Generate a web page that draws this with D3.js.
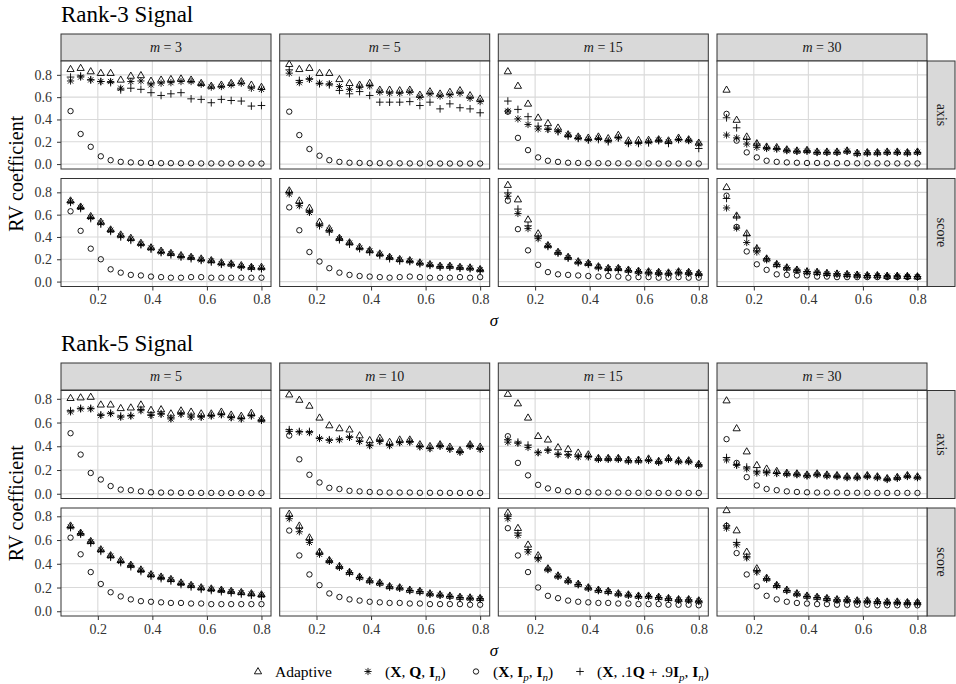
<!DOCTYPE html>
<html>
<head>
<meta charset="utf-8">
<script src="https://cdn.jsdelivr.net/npm/d3@7"></script>
<style>
body { margin: 0; background: #fff; }
</style>
</head>
<body>
<svg id="chart"></svg>
<script>
var width = 956,
    height = 684,
    serif = "'Liberation Serif', 'DejaVu Serif', serif";

// noise levels on the x axis
var sigma = [0.1, 0.137, 0.174, 0.211, 0.247, 0.284, 0.321, 0.358, 0.395, 0.432,
             0.468, 0.505, 0.542, 0.579, 0.616, 0.653, 0.689, 0.726, 0.763, 0.8];

var rank3_m = [3, 5, 15, 30],
    rank5_m = [5, 10, 15, 30],
    row_labels = ["axis", "score"];

// each panel: [Adaptive, (X,Q,In), (X,Ip,In), (X,.1Q+.9Ip,In)]
var r3_m3_axis = [
  [0.85,0.86,0.83,0.815,0.815,0.755,0.79,0.795,0.745,0.755,0.76,0.765,0.755,0.725,0.70,0.71,0.725,0.74,0.71,0.69],
  [0.745,0.78,0.755,0.74,0.74,0.68,0.74,0.745,0.71,0.725,0.73,0.74,0.74,0.715,0.69,0.695,0.71,0.725,0.68,0.67],
  [0.475,0.27,0.155,0.07,0.035,0.02,0.015,0.012,0.01,0.008,0.008,0.007,0.007,0.006,0.006,0.006,0.005,0.005,0.005,0.005],
  [0.78,0.79,0.755,0.74,0.73,0.665,0.68,0.67,0.64,0.615,0.63,0.64,0.585,0.58,0.55,0.58,0.57,0.565,0.52,0.525]
];
var r3_m5_axis = [
  [0.895,0.85,0.86,0.815,0.815,0.76,0.725,0.71,0.725,0.665,0.665,0.66,0.665,0.62,0.65,0.63,0.645,0.66,0.615,0.585],
  [0.815,0.73,0.76,0.725,0.72,0.695,0.67,0.69,0.70,0.645,0.635,0.635,0.645,0.60,0.63,0.61,0.62,0.635,0.59,0.56],
  [0.47,0.26,0.135,0.075,0.035,0.02,0.012,0.01,0.008,0.008,0.007,0.007,0.006,0.006,0.006,0.005,0.005,0.005,0.005,0.005],
  [0.845,0.75,0.765,0.72,0.71,0.66,0.63,0.65,0.615,0.555,0.555,0.555,0.56,0.525,0.555,0.495,0.54,0.505,0.495,0.46]
];
var r3_m15_axis = [
  [0.83,0.70,0.54,0.415,0.365,0.325,0.265,0.245,0.235,0.245,0.23,0.26,0.21,0.215,0.215,0.22,0.21,0.235,0.22,0.19],
  [0.475,0.405,0.355,0.315,0.31,0.295,0.26,0.235,0.22,0.23,0.21,0.235,0.19,0.19,0.20,0.215,0.20,0.22,0.21,0.18],
  [0.47,0.235,0.125,0.06,0.03,0.02,0.012,0.01,0.008,0.008,0.007,0.007,0.006,0.006,0.006,0.005,0.005,0.005,0.005,0.005],
  [0.565,0.49,0.425,0.34,0.315,0.29,0.25,0.23,0.215,0.22,0.20,0.235,0.185,0.185,0.19,0.21,0.185,0.22,0.215,0.14]
];
var r3_m30_axis = [
  [0.665,0.395,0.245,0.185,0.155,0.15,0.13,0.12,0.125,0.11,0.11,0.11,0.12,0.10,0.105,0.105,0.11,0.11,0.105,0.11],
  [0.26,0.235,0.18,0.15,0.14,0.135,0.12,0.115,0.115,0.105,0.105,0.105,0.115,0.095,0.10,0.10,0.105,0.105,0.10,0.105],
  [0.45,0.21,0.105,0.06,0.03,0.02,0.015,0.012,0.01,0.01,0.008,0.008,0.008,0.007,0.007,0.007,0.006,0.006,0.006,0.006],
  [0.415,0.325,0.22,0.18,0.15,0.14,0.125,0.115,0.12,0.105,0.105,0.105,0.115,0.095,0.10,0.10,0.105,0.105,0.10,0.105]
];
var r3_m3_score = [
  [0.725,0.67,0.585,0.535,0.465,0.42,0.39,0.345,0.305,0.275,0.255,0.235,0.22,0.205,0.19,0.17,0.16,0.145,0.13,0.13],
  [0.715,0.665,0.575,0.525,0.46,0.41,0.38,0.335,0.30,0.265,0.25,0.225,0.215,0.195,0.185,0.16,0.155,0.135,0.125,0.12],
  [0.63,0.455,0.295,0.20,0.11,0.08,0.06,0.055,0.045,0.04,0.035,0.035,0.04,0.04,0.035,0.035,0.035,0.035,0.035,0.035],
  [0.71,0.655,0.565,0.515,0.45,0.40,0.37,0.33,0.29,0.26,0.24,0.22,0.205,0.19,0.175,0.155,0.15,0.13,0.12,0.115]
];
var r3_m5_score = [
  [0.815,0.725,0.66,0.535,0.475,0.39,0.35,0.31,0.28,0.25,0.22,0.20,0.19,0.17,0.155,0.14,0.14,0.13,0.125,0.11],
  [0.785,0.68,0.62,0.505,0.46,0.385,0.345,0.30,0.275,0.245,0.215,0.195,0.185,0.165,0.15,0.135,0.135,0.125,0.12,0.105],
  [0.665,0.46,0.265,0.18,0.12,0.08,0.06,0.05,0.045,0.04,0.035,0.04,0.045,0.04,0.035,0.035,0.035,0.04,0.035,0.04],
  [0.80,0.70,0.63,0.50,0.445,0.375,0.335,0.295,0.265,0.235,0.205,0.185,0.18,0.16,0.145,0.13,0.13,0.12,0.115,0.10]
];
var r3_m15_score = [
  [0.865,0.735,0.555,0.43,0.325,0.265,0.22,0.18,0.165,0.135,0.12,0.12,0.105,0.095,0.09,0.085,0.08,0.09,0.085,0.075],
  [0.765,0.61,0.475,0.385,0.32,0.26,0.215,0.175,0.16,0.13,0.115,0.115,0.10,0.09,0.085,0.08,0.075,0.085,0.08,0.07],
  [0.725,0.47,0.28,0.15,0.085,0.065,0.06,0.055,0.05,0.045,0.05,0.045,0.035,0.04,0.04,0.035,0.035,0.04,0.035,0.035],
  [0.795,0.65,0.50,0.40,0.315,0.255,0.21,0.17,0.155,0.125,0.11,0.11,0.095,0.085,0.08,0.075,0.07,0.08,0.075,0.065]
];
var r3_m30_score = [
  [0.845,0.59,0.43,0.295,0.205,0.155,0.125,0.105,0.09,0.085,0.075,0.07,0.065,0.06,0.055,0.055,0.05,0.05,0.048,0.045],
  [0.66,0.48,0.35,0.265,0.195,0.15,0.12,0.10,0.088,0.08,0.072,0.068,0.062,0.058,0.053,0.052,0.048,0.048,0.046,0.043],
  [0.77,0.49,0.27,0.155,0.105,0.065,0.06,0.055,0.055,0.045,0.045,0.04,0.04,0.04,0.04,0.04,0.04,0.04,0.04,0.04],
  [0.745,0.58,0.415,0.30,0.205,0.155,0.125,0.105,0.09,0.085,0.075,0.07,0.065,0.06,0.055,0.055,0.05,0.05,0.048,0.045]
];

var r5_m5_axis = [
  [0.805,0.81,0.815,0.75,0.75,0.72,0.725,0.75,0.705,0.71,0.675,0.70,0.69,0.675,0.675,0.69,0.665,0.655,0.68,0.63],
  [0.69,0.715,0.715,0.66,0.675,0.645,0.655,0.70,0.66,0.67,0.63,0.67,0.645,0.645,0.655,0.665,0.64,0.63,0.655,0.62],
  [0.51,0.33,0.175,0.12,0.065,0.035,0.03,0.02,0.012,0.01,0.01,0.008,0.008,0.007,0.007,0.006,0.006,0.006,0.006,0.006],
  [0.70,0.72,0.72,0.665,0.68,0.655,0.66,0.71,0.665,0.675,0.64,0.675,0.655,0.65,0.66,0.67,0.645,0.635,0.66,0.62]
];
var r5_m10_axis = [
  [0.835,0.79,0.74,0.64,0.575,0.55,0.54,0.49,0.45,0.47,0.435,0.455,0.455,0.415,0.40,0.415,0.395,0.365,0.415,0.395],
  [0.525,0.52,0.515,0.465,0.45,0.455,0.475,0.44,0.405,0.44,0.405,0.43,0.435,0.395,0.38,0.40,0.375,0.35,0.40,0.375],
  [0.49,0.29,0.16,0.095,0.05,0.04,0.025,0.02,0.015,0.012,0.01,0.01,0.01,0.008,0.008,0.008,0.007,0.007,0.007,0.007],
  [0.54,0.525,0.525,0.47,0.455,0.46,0.48,0.445,0.41,0.445,0.41,0.435,0.44,0.40,0.385,0.405,0.38,0.355,0.405,0.38]
];
var r5_m15_axis = [
  [0.84,0.76,0.64,0.485,0.455,0.39,0.375,0.345,0.33,0.30,0.30,0.30,0.285,0.285,0.295,0.275,0.30,0.28,0.28,0.25],
  [0.435,0.425,0.39,0.345,0.365,0.33,0.325,0.31,0.31,0.29,0.29,0.29,0.275,0.275,0.28,0.265,0.29,0.27,0.27,0.24],
  [0.485,0.26,0.155,0.075,0.045,0.03,0.02,0.015,0.012,0.01,0.01,0.01,0.008,0.008,0.008,0.007,0.007,0.007,0.007,0.007],
  [0.455,0.435,0.41,0.35,0.37,0.335,0.33,0.315,0.315,0.295,0.295,0.295,0.28,0.28,0.285,0.27,0.295,0.275,0.275,0.245]
];
var r5_m30_axis = [
  [0.785,0.55,0.355,0.24,0.21,0.19,0.175,0.17,0.16,0.17,0.16,0.155,0.145,0.145,0.155,0.145,0.13,0.14,0.155,0.145],
  [0.285,0.24,0.21,0.175,0.175,0.17,0.165,0.16,0.15,0.16,0.15,0.145,0.135,0.135,0.145,0.135,0.12,0.13,0.145,0.135],
  [0.46,0.26,0.14,0.07,0.04,0.03,0.02,0.015,0.012,0.01,0.01,0.01,0.008,0.008,0.008,0.007,0.007,0.007,0.007,0.007],
  [0.305,0.245,0.225,0.19,0.18,0.175,0.17,0.165,0.155,0.165,0.155,0.15,0.14,0.14,0.15,0.14,0.125,0.135,0.15,0.14]
];
var r5_m5_score = [
  [0.72,0.66,0.59,0.52,0.47,0.43,0.39,0.35,0.31,0.29,0.27,0.24,0.22,0.20,0.19,0.18,0.17,0.16,0.15,0.14],
  [0.71,0.655,0.585,0.515,0.465,0.42,0.385,0.345,0.305,0.285,0.265,0.235,0.215,0.195,0.185,0.175,0.165,0.155,0.145,0.135],
  [0.62,0.48,0.33,0.23,0.16,0.125,0.10,0.085,0.08,0.075,0.07,0.07,0.065,0.065,0.06,0.06,0.06,0.06,0.06,0.06],
  [0.705,0.65,0.575,0.505,0.455,0.41,0.375,0.335,0.295,0.275,0.255,0.225,0.205,0.185,0.175,0.165,0.155,0.145,0.135,0.125]
];
var r5_m10_score = [
  [0.82,0.72,0.62,0.50,0.43,0.38,0.33,0.29,0.26,0.24,0.21,0.20,0.18,0.17,0.15,0.14,0.13,0.12,0.115,0.11],
  [0.78,0.67,0.58,0.48,0.42,0.37,0.325,0.285,0.255,0.235,0.205,0.195,0.175,0.165,0.145,0.135,0.125,0.115,0.11,0.105],
  [0.68,0.47,0.31,0.22,0.15,0.12,0.10,0.09,0.08,0.075,0.07,0.07,0.065,0.065,0.06,0.06,0.06,0.06,0.055,0.055],
  [0.80,0.70,0.60,0.49,0.425,0.375,0.325,0.285,0.255,0.235,0.205,0.195,0.175,0.165,0.145,0.135,0.125,0.115,0.11,0.105]
];
var r5_m15_score = [
  [0.83,0.70,0.56,0.47,0.36,0.30,0.26,0.23,0.20,0.18,0.17,0.15,0.14,0.13,0.13,0.12,0.11,0.10,0.10,0.09],
  [0.78,0.64,0.50,0.44,0.35,0.295,0.255,0.225,0.195,0.175,0.165,0.145,0.135,0.125,0.125,0.115,0.105,0.095,0.095,0.085],
  [0.70,0.47,0.33,0.20,0.13,0.11,0.09,0.08,0.075,0.07,0.07,0.065,0.065,0.06,0.06,0.06,0.055,0.055,0.055,0.05],
  [0.80,0.66,0.52,0.45,0.355,0.295,0.255,0.225,0.195,0.175,0.165,0.145,0.135,0.125,0.125,0.115,0.105,0.095,0.095,0.085]
];
var r5_m30_score = [
  [0.85,0.68,0.50,0.36,0.28,0.22,0.18,0.15,0.13,0.12,0.11,0.10,0.10,0.09,0.09,0.085,0.08,0.08,0.075,0.075],
  [0.70,0.56,0.45,0.33,0.27,0.215,0.175,0.145,0.125,0.115,0.105,0.095,0.095,0.085,0.085,0.08,0.075,0.075,0.07,0.07],
  [0.72,0.49,0.31,0.21,0.13,0.10,0.08,0.07,0.065,0.06,0.06,0.055,0.055,0.055,0.055,0.05,0.05,0.05,0.05,0.05],
  [0.72,0.58,0.46,0.34,0.275,0.215,0.175,0.145,0.125,0.115,0.105,0.095,0.095,0.085,0.085,0.08,0.075,0.075,0.07,0.07]
];

var shapes = ["triangle", "asterisk", "circle", "plus"];

// layout
var col_left = [61, 279.7, 498.3, 717],
    pw = 210,
    ph = 108,
    strip_h = 27,
    rstrip_w = 28,
    x_ticks = [0.2, 0.4, 0.6, 0.8],
    y_ticks = [0, 0.2, 0.4, 0.6, 0.8];

var svg = d3.select("#chart")
  .attr("width", width).attr("height", height)
  .style("font-family", serif);

function symbolPath(type) {
  if (type == "triangle") return "M0,-3.9L3.6,2.3L-3.6,2.3Z";
  if (type == "circle") return "M2.7,0A2.7,2.7 0 1 1 -2.7,0A2.7,2.7 0 1 1 2.7,0Z";
  if (type == "plus") return "M-3.8,0H3.8M0,-3.8V3.8";
  return "M-3.6,0H3.6M0,-3.6V3.6M-2.6,-2.6L2.6,2.6M-2.6,2.6L2.6,-2.6";
}

function styleAxis(a) {
  a.select(".domain").remove();
  a.selectAll("line").attr("stroke", "#333");
  a.selectAll("text")
    .style("font-family", serif).style("font-size", "14px")
    .attr("fill", "#333");
}

function drawSection(title, ms, panels, strip_top, row_tops, y_dom, label_y) {
  var x = d3.scaleLinear().domain([0.065, 0.835]).range([0, pw]);
  var y = d3.scaleLinear().domain(y_dom).range([ph, 0]);

  svg.append("text")
    .attr("x", 61).attr("y", strip_top - 12.5)
    .style("font-size", "23px").attr("fill", "#000")
    .text(title);

  // top strips
  ms.forEach(function(m, ci) {
    svg.append("rect")
      .attr("x", col_left[ci]).attr("y", strip_top)
      .attr("width", pw).attr("height", strip_h)
      .attr("fill", "#d9d9d9").attr("stroke", "#333").attr("stroke-width", 1);
    var t = svg.append("text")
      .attr("x", col_left[ci] + pw / 2).attr("y", strip_top + 18)
      .attr("text-anchor", "middle").style("font-size", "14px").attr("fill", "#1a1a1a");
    t.append("tspan").style("font-style", "italic").text("m");
    t.append("tspan").text(" = " + m);
  });

  row_tops.forEach(function(rt, ri) {
    // right strip
    svg.append("rect")
      .attr("x", col_left[3] + pw).attr("y", rt)
      .attr("width", rstrip_w).attr("height", ph)
      .attr("fill", "#d9d9d9").attr("stroke", "#333").attr("stroke-width", 1);
    svg.append("text")
      .attr("transform", "translate(" + (col_left[3] + pw + rstrip_w / 2 - 4) + "," + (rt + ph / 2) + ") rotate(90)")
      .attr("text-anchor", "middle").style("font-size", "14px").attr("fill", "#1a1a1a")
      .text(row_labels[ri]);

    ms.forEach(function(m, ci) {
      var p = svg.append("g").attr("transform", "translate(" + col_left[ci] + "," + rt + ")");
      p.append("rect").attr("width", pw).attr("height", ph).attr("fill", "#fff");
      p.selectAll(".gy").data(y_ticks).enter().append("line")
        .attr("x1", 0).attr("x2", pw)
        .attr("y1", function(d) { return y(d); }).attr("y2", function(d) { return y(d); })
        .attr("stroke", "#d9d9d9").attr("stroke-width", 1.1);
      p.selectAll(".gx").data(x_ticks).enter().append("line")
        .attr("y1", 0).attr("y2", ph)
        .attr("x1", function(d) { return x(d); }).attr("x2", function(d) { return x(d); })
        .attr("stroke", "#d9d9d9").attr("stroke-width", 1.1);

      var series = panels[ri][ci];
      series.forEach(function(vals, si) {
        p.selectAll(".s" + si).data(vals).enter().append("path")
          .attr("d", symbolPath(shapes[si]))
          .attr("transform", function(d, i) { return "translate(" + x(sigma[i]) + "," + y(d) + ")"; })
          .attr("fill", "none").attr("stroke", "#000").attr("stroke-width", 0.9);
      });

      p.append("rect").attr("width", pw).attr("height", ph)
        .attr("fill", "none").attr("stroke", "#333").attr("stroke-width", 1);

      if (ci == 0) {
        p.append("g").call(
          d3.axisLeft(y).tickValues(y_ticks).tickFormat(d3.format(".1f")).tickSize(4).tickPadding(5)
        ).call(styleAxis);
      }
      if (ri == row_tops.length - 1) {
        p.append("g").attr("transform", "translate(0," + ph + ")").call(
          d3.axisBottom(x).tickValues(x_ticks).tickFormat(d3.format(".1f")).tickSize(4).tickPadding(4)
        ).call(styleAxis);
      }
    });
  });

  var mid = (row_tops[0] + row_tops[row_tops.length - 1] + ph) / 2;
  svg.append("text")
    .attr("transform", "translate(23," + mid + ") rotate(-90)")
    .attr("text-anchor", "middle").style("font-size", "20px").attr("fill", "#000")
    .text("RV coefficient");

  svg.append("text")
    .attr("x", (col_left[0] + col_left[3] + pw) / 2).attr("y", label_y)
    .attr("text-anchor", "middle").style("font-size", "17px").style("font-style", "italic")
    .text("\u03c3");
}

drawSection("Rank-3 Signal", rank3_m,
  [[r3_m3_axis, r3_m5_axis, r3_m15_axis, r3_m30_axis],
   [r3_m3_score, r3_m5_score, r3_m15_score, r3_m30_score]],
  34, [61, 178.5], [-0.044, 0.924], 326);

drawSection("Rank-5 Signal", rank5_m,
  [[r5_m5_axis, r5_m10_axis, r5_m15_axis, r5_m30_axis],
   [r5_m5_score, r5_m10_score, r5_m15_score, r5_m30_score]],
  363, [390.5, 508], [-0.04, 0.87], 656);

// legend
var legend_x = [258, 368, 476, 580];
var legend_labels = [
  [{t: "Adaptive"}],
  [{t: "("}, {t: "X", b: 1}, {t: ", "}, {t: "Q", b: 1}, {t: ", "}, {t: "I", b: 1}, {t: "n", s: 1}, {t: ")"}],
  [{t: "("}, {t: "X", b: 1}, {t: ", "}, {t: "I", b: 1}, {t: "p", s: 1}, {t: ", "}, {t: "I", b: 1}, {t: "n", s: 1}, {t: ")"}],
  [{t: "("}, {t: "X", b: 1}, {t: ", .1"}, {t: "Q", b: 1}, {t: " + .9"}, {t: "I", b: 1}, {t: "p", s: 1},
   {t: ", "}, {t: "I", b: 1}, {t: "n", s: 1}, {t: ")"}]
];

legend_labels.forEach(function(parts, i) {
  svg.append("path")
    .attr("d", symbolPath(shapes[i]))
    .attr("transform", "translate(" + legend_x[i] + ",671.5)")
    .attr("fill", "none").attr("stroke", "#000").attr("stroke-width", 0.9);
  var t = svg.append("text")
    .attr("x", legend_x[i] + 17).attr("y", 677)
    .style("font-size", "15.5px").attr("fill", "#000");
  var shifted = false;
  parts.forEach(function(pt) {
    var ts = t.append("tspan").text(pt.t);
    if (pt.b) ts.style("font-weight", "bold");
    if (pt.s) {
      ts.style("font-style", "italic").style("font-size", "11px").attr("dy", 3.5);
      shifted = true;
    } else if (shifted) {
      ts.attr("dy", -3.5);
      shifted = false;
    }
  });
});
</script>
</body>
</html>
